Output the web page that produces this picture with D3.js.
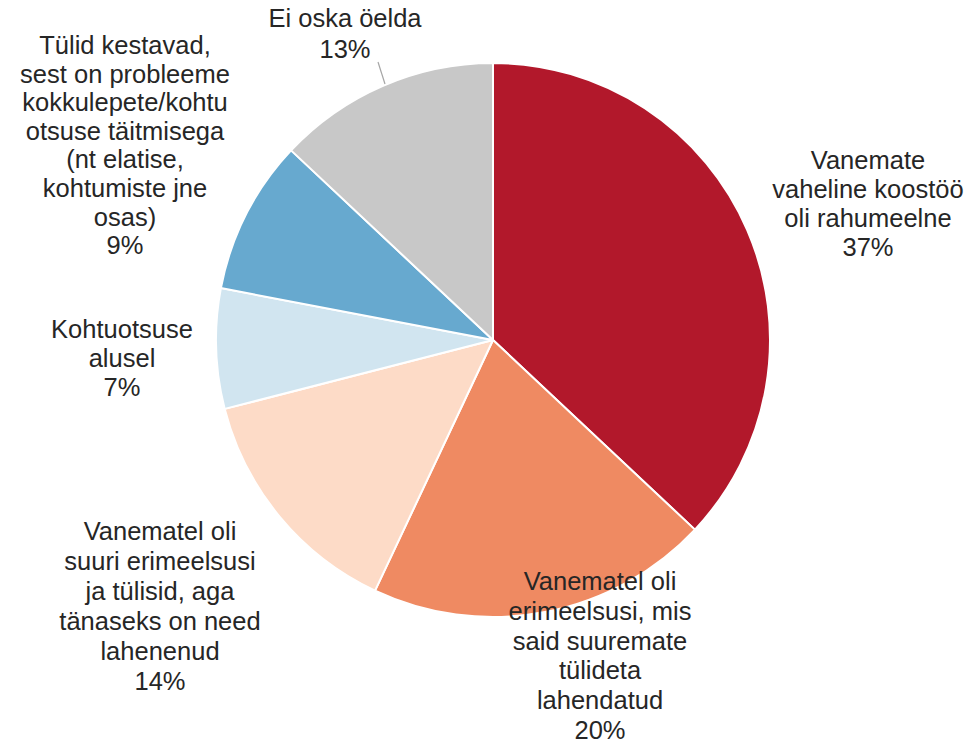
<!DOCTYPE html>
<html><head><meta charset="utf-8">
<script src="https://cdnjs.cloudflare.com/ajax/libs/d3/7.8.5/d3.min.js"></script>
<style>body{margin:0;background:#fff}svg{display:block}</style>
</head><body>
<svg id="c" width="971" height="744"></svg>
<script>
const categories = [
  "Vanemate\nvaheline koostöö\noli rahumeelne",
  "Vanematel oli\nerimeelsusi, mis\nsaid suuremate\ntülideta\nlahendatud",
  "Vanematel oli\nsuuri erimeelsusi\nja tülisid, aga\ntänaseks on need\nlahenenud",
  "Kohtuotsuse\nalusel",
  "Tülid kestavad,\nsest on probleeme\nkokkulepete/kohtu\notsuse täitmisega\n(nt elatise,\nkohtumiste jne\nosas)",
  "Ei oska öelda"
];
const values = [37, 20, 14, 7, 9, 13];
const colors = ["#b2182b", "#ef8a62", "#fddbc7", "#d1e5f0", "#67a9cf", "#c8c8c8"];
// label layout: center x and first-line y (layout, not data)
const labelPos = [[868,160],[600,581],[160,531],[122,329],[125,45],[345,18]];
const lineH = [29, 29.8, 30, 29, 28.6, 31];

const svg = d3.select("#c");
const cx = 493, cy = 340, R = 277;
const g = svg.append("g").attr("transform", `translate(${cx},${cy})`);
const pie = d3.pie().sort(null).value(d => d);
const arc = d3.arc().innerRadius(0).outerRadius(R);
const arcs = pie(values);
g.selectAll("path").data(arcs).enter().append("path")
  .attr("d", arc).attr("fill", (d,i) => colors[i])
  .attr("stroke", "#fff").attr("stroke-width", 2).attr("stroke-linejoin","round");

// leader line for "Ei oska öelda"
svg.append("line")
  .attr("x1", 378).attr("y1", 62)
  .attr("x2", 385).attr("y2", 84)
  .attr("stroke", "#a6a6a6").attr("stroke-width", 1.2);

categories.forEach((c, i) => {
  const lines = c.split("\n").concat([values[i] + "%"]);
  const t = svg.append("text")
    .attr("x", labelPos[i][0]).attr("y", labelPos[i][1])
    .attr("text-anchor", "middle")
    .attr("font-family", "Liberation Sans, Arial, sans-serif")
    .attr("font-size", 25.5).attr("fill", "#262626");
  lines.forEach((l, j) => {
    t.append("tspan").attr("x", labelPos[i][0]).attr("dy", j === 0 ? "0.35em" : lineH[i]).text(l);
  });
});
</script>
</body></html>
